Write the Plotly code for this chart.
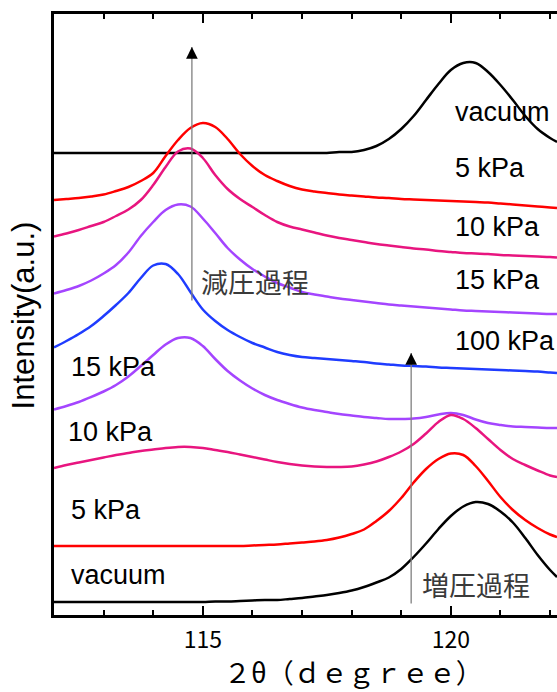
import plotly.graph_objects as go

# ---- data: shared 2theta grid (degree) and intensities (arbitrary units) ----
two_theta = [112.0, 112.25, 112.5, 112.75, 113.0, 113.25, 113.5, 113.75, 114.0, 114.25,
             114.5, 114.75, 115.0, 115.25, 115.5, 115.75, 116.0, 116.25, 116.5, 116.75,
             117.0, 117.25, 117.5, 117.75, 118.0, 118.25, 118.5, 118.75, 119.0, 119.25,
             119.5, 119.75, 120.0, 120.25, 120.5, 120.75, 121.0, 121.25, 121.5, 121.75,
             122.0, 122.14]

# decompression (減圧過程)
vac_dec = [462] * 22 + [462, 463, 463, 465, 469, 476, 486, 499, 515, 531,
                        545, 552, 552, 543, 530, 515, 499, 486, 477, 473]
kpa5_dec = [415, 416, 417, 418.5, 420.5, 424, 428, 434, 442, 459,
            475, 487, 492, 488, 476, 461, 449, 440, 434, 429,
            425.5, 423.5, 422, 420.5, 419.5, 418.5, 417.5, 417, 416, 415.5,
            415, 414.5, 414, 413.5, 413, 412.5, 411.5, 410.5, 409.5, 408.5,
            407.5, 407]
kpa10_dec = [378.5, 381.5, 385, 389, 393, 399, 405.5, 415, 430, 448,
             463.5, 466.5, 457, 440, 426, 416, 408, 400, 393, 388.5,
             385.5, 382.5, 379.5, 377, 375, 373, 371, 369.5, 368, 366.5,
             365.5, 364, 363, 362, 361.5, 361, 360, 359.5, 359, 358.5,
             358, 357.5]
kpa15_dec = [321.5, 325, 329, 334.5, 341.5, 350, 362.5, 379, 393, 405,
             410.5, 408.5, 396.5, 382, 367, 355.5, 346, 338.5, 332, 327.5,
             323, 320.5, 318.5, 316.5, 315, 313.5, 312, 310.5, 309.5, 308.5,
             307.5, 306.5, 305.5, 304.5, 304, 303.5, 303, 302.5, 302, 301.5,
             301, 301]
kpa100 = [267.5, 274, 281, 289, 299, 310, 322, 337, 349.5, 351,
          341, 323, 305.5, 294, 285, 278, 272, 267.5, 263, 260,
          258, 257, 256, 255, 254, 253, 251.5, 250.5, 249.5, 249,
          248.5, 247.5, 247, 246.5, 246, 245.5, 245, 244.5, 244, 243.5,
          242.5, 242]
# compression (増圧過程)
kpa15_inc = [205.5, 209, 213, 218, 223.5, 230, 238.5, 249, 260, 270.5,
             277, 277, 269, 256, 244, 234.5, 226.5, 220, 215, 211,
             207.5, 205, 203, 201, 199.5, 198, 197, 196, 196, 196.5,
             198, 200.5, 202, 200, 195.5, 192, 190, 188.5, 188, 187.5,
             187, 187]
kpa10_inc = [147, 150, 152.5, 155, 157.5, 160, 162, 164, 165.5, 167,
             168, 168, 167, 165, 163, 160.5, 158, 155.5, 153, 151,
             149.5, 148.5, 148, 148, 148.5, 150.5, 153.5, 158, 163.5, 171,
             181.5, 193, 200, 196, 187, 176, 165, 156, 150, 144.5,
             139.5, 138]
kpa5_inc = [69] * 16 + [69.5, 70, 70.5, 71.5, 72.5, 73.5, 75, 77.5, 81, 85.5,
                        94, 104, 117, 132.5, 146, 156, 161.5, 160, 149, 134,
                        118, 105, 95, 87, 80.5, 78]
vac_inc = [13] * 13 + [13.5, 13.5, 14, 14.5, 15, 15, 16, 17, 18.5, 20,
                       22, 24.5, 28, 32.5, 37.5, 46, 58, 71.5, 86, 99,
                       108.5, 113, 111, 103.5, 92.5, 77, 60, 45, 38]

labels_right = ["vacuum", "5 kPa", "10 kPa", "15 kPa", "100 kPa"]
labels_left = ["15 kPa", "10 kPa", "5 kPa", "vacuum"]

BLACK = "#000000"
RED = "#ff0000"
PINK = "#e8157f"
PURPLE = "#a445ff"
BLUE = "#1f3cff"

series = [
    (vac_dec, BLACK), (kpa5_dec, RED), (kpa10_dec, PINK), (kpa15_dec, PURPLE),
    (kpa100, BLUE), (kpa15_inc, PURPLE), (kpa10_inc, PINK), (kpa5_inc, RED),
    (vac_inc, BLACK),
]

fig = go.Figure()
for ys, col in series:
    fig.add_trace(go.Scatter(x=two_theta, y=ys, mode="lines",
                             line=dict(color=col, width=2.5, shape="spline", smoothing=1.0),
                             hoverinfo="skip"))

LAB_FONT = dict(family="Liberation Sans, Arial, sans-serif", size=27, color="#000000")
CJK_FONT = dict(family="Noto Sans CJK JP", size=27, color="#3a3a3a")

ann = []
right_y = [502.7, 446.7, 387.7, 334.7, 273.7]
for t, y in zip(labels_right, right_y):
    ann.append(dict(x=120.05, y=y, xref="x", yref="y", text=t, showarrow=False,
                    xanchor="left", yanchor="middle", font=LAB_FONT))
left_x = [112.31, 112.25, 112.31, 112.31]
left_y = [247.7, 182.7, 104.7, 39.7]
for t, x, y in zip(labels_left, left_x, left_y):
    ann.append(dict(x=x, y=y, xref="x", yref="y", text=t, showarrow=False,
                    xanchor="left", yanchor="middle", font=LAB_FONT))

ann.append(dict(x=116.05, y=334, xref="x", yref="y", text="減圧過程", showarrow=False,
                xanchor="center", yanchor="middle", font=CJK_FONT))
ann.append(dict(x=120.51, y=31, xref="x", yref="y", text="増圧過程", showarrow=False,
                xanchor="center", yanchor="middle", font=CJK_FONT))

# arrows: gray shafts + black heads
for xa, y0, y1 in [(114.78, 313, 568), (119.2, 10, 262)]:
    ann.append(dict(x=xa, y=y1, ax=xa, ay=y0, xref="x", yref="y", axref="x", ayref="y",
                    text="", showarrow=True, arrowhead=0, arrowwidth=1.3, arrowcolor="#808080"))
    ann.append(dict(x=xa, y=y1, ax=xa, ay=y1 - 12, xref="x", yref="y", axref="x", ayref="y",
                    text="", showarrow=True, arrowhead=2, arrowsize=1.8, arrowwidth=1.3,
                    arrowcolor="#000000"))

# axis titles
ann.append(dict(x=0.5964, y=-0.0948, xref="paper", yref="paper", text="２θ（ｄｅｇｒｅｅ）",
                showarrow=False, xanchor="center", yanchor="middle",
                font=dict(family="Noto Sans CJK JP", size=27, color="#000000")))
ann.append(dict(x=-0.061, y=0.499, xref="paper", yref="paper", text="Intensity(a.u.)",
                showarrow=False, xanchor="center", yanchor="middle", textangle=-90,
                font=dict(family="Liberation Sans, Arial, sans-serif", size=31, color="#000000")))

fig.update_layout(
    width=557, height=692,
    margin=dict(l=54, r=0, t=14, b=77),
    paper_bgcolor="white", plot_bgcolor="white",
    showlegend=False,
    annotations=ann,
)
fig.update_xaxes(
    range=[112, 122.14], showline=True, linewidth=2.5, linecolor="black", mirror="ticks",
    ticks="inside", ticklen=9, tickwidth=2, tickcolor="black",
    tick0=115, dtick=5, showgrid=False, zeroline=False,
    tickfont=dict(family="Noto Sans CJK JP", size=23, color="black"),
    ticklabelstandoff=3,
    minor=dict(dtick=1, tick0=115, ticks="inside", ticklen=5, tickwidth=2, tickcolor="black", showgrid=False),
)
fig.update_yaxes(
    range=[0, 601], showline=True, linewidth=2.5, linecolor="black", mirror=False,
    ticks="", showticklabels=False, showgrid=False, zeroline=False,
)

fig.write_html("out.html", config={"displayModeBar": False},
               post_script="document.body.style.margin='0';document.body.style.overflow='hidden';")
